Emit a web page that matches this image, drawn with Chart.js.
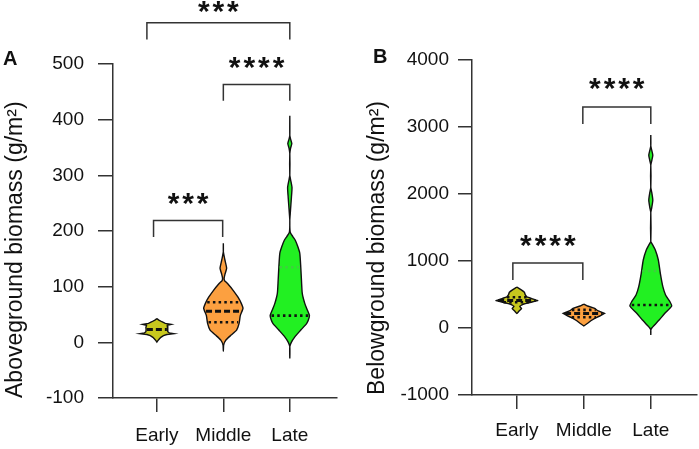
<!DOCTYPE html>
<html><head><meta charset="utf-8">
<script src="https://cdn.jsdelivr.net/npm/chart.js@4.4.1/dist/chart.umd.min.js"></script>
<style>
html,body{margin:0;padding:0;background:#fff;overflow:hidden}
#wrap{display:flex;width:699px;height:449px}
canvas{display:block}
</style></head><body>
<div id="wrap"><canvas id="cA" width="350" height="449"></canvas><canvas id="cB" width="349" height="449"></canvas></div>
<script>
// ---------- data ----------
const categories = ['Early', 'Middle', 'Late'];
const aboveTicks = [-100, 0, 100, 200, 300, 400, 500];
const belowTicks = [-1000, 0, 1000, 2000, 3000, 4000];

// violin outlines: [value, relative density (half-width)]
const aboveEarly = [[42.5,0],[40,0.1],[37,0.25],[34,0.42],[32.3,0.72],[30.5,0.52],[27,0.55],[23,0.54],[19,0.55],[17,0.62],[15.6,0.85],[14,0.5],[12,0.33],[9,0.2],[6,0.12],[3,0.05],[0.5,0]];
const aboveMiddle = [[178,0],[163,0],[155,0.04],[147,0.085],[133,0.165],[122,0.08],[115,0.04],[111,0.06],[106,0.2],[93,0.5],[81,0.735],[70,0.9],[61,0.985],[48,0.85],[34,0.79],[22,0.665],[13,0.39],[4,0.125],[-5,0.015],[-16,0]];
const aboveLate = [[407,0],[372,0],[365,0.04],[357,0.1],[349,0.04],[339,0],[300,0],[292,0.04],[278,0.11],[260,0.08],[235,0.03],[219,0],[198,0.02],[190,0.15],[183,0.28],[172,0.4],[160,0.5],[135,0.55],[111,0.585],[88,0.625],[70,0.75],[58,0.88],[48,0.985],[40,0.93],[34,0.85],[22,0.55],[9,0.235],[0,0.075],[-8,0],[-29,0]];

const belowEarly = [[612,0],[572,0.2],[533,0.375],[497,0.415],[463,0.5],[433,0.79],[408,1.04],[384,0.7],[354,0.31],[324,0.14],[289,0.235],[249,0.1],[214,0]];
const belowMiddle = [[358,0],[328,0.19],[294,0.54],[258,0.69],[219,1.025],[179,0.79],[145,0.54],[109,0.35],[70,0.19],[30,0]];
const belowLate = [[2880,0],[2720,0],[2650,0.05],[2580,0.1],[2500,0.05],[2430,0],[2100,0],[2020,0.05],[1910,0.1],[1800,0.05],[1720,0],[1290,0],[1264,0.05],[1165,0.225],[1015,0.375],[816,0.475],[617,0.6],[493,0.735],[393,0.95],[328,1.04],[219,0.7],[119,0.415],[45,0.185],[0,0.05],[-30,0],[-104,0]];

// summary lines: [category index, value, kind]
const aboveLines = [[0,23,'median'],[1,36,'quartile'],[1,56,'median'],[1,72,'quartile'],[2,48,'quartile'],[2,135,'hidden']];
const belowLines = [[0,460,'quartile'],[0,412,'median'],[0,385,'quartile'],[1,270,'quartile'],[1,215,'median'],[1,160,'quartile'],[2,343,'quartile'],[2,850,'hidden']];

// significance brackets: [from, to, leg end, bar level, label level, label]
const aboveBrackets = [[-0.15,2,544,574,599,'***'],[1,2,434,463,499,'****'],[-0.05,0.99,189,219,254,'***']];
const belowBrackets = [[0.985,2,3046,3300,3613,'****'],[-0.06,0.985,717,970,1269,'****']];

// ---------- drawing ----------
const FONT = "'Liberation Sans', Arial, sans-serif";
Chart.defaults.font.family = FONT;
Chart.defaults.color = '#111';
const fills = ['#c8c81e', '#fca040', '#22f022'];
const K = 0.3;

function outlinePoints(cat, outline) {
  const right = outline.map(([v, d]) => ({x: cat + d * K, y: v}));
  const left = outline.slice(0, -1).reverse().map(([v, d]) => ({x: cat - d * K, y: v}));
  return right.concat(left);
}
function widthAt(outline, v) {
  for (let i = 0; i < outline.length - 1; i++) {
    const [v1, d1] = outline[i], [v2, d2] = outline[i + 1];
    if (v <= v1 && v >= v2) { const t = (v1 - v) / (v1 - v2 || 1); return (d1 + t * (d2 - d1)) * K; }
  }
  return 0;
}
function buildDatasets(outlines, tensions, lines, brackets) {
  const ds = [];
  outlines.forEach((o, i) => ds.push({
    data: outlinePoints(i, o), showLine: true, fill: 'shape', backgroundColor: fills[i],
    borderColor: '#111', borderWidth: 1.4, pointRadius: 0, tension: tensions[i], order: 3, clip: false
  }));
  lines.forEach(([c, v, kind]) => {
    const w = widthAt(outlines[c], v) * 0.93;
    ds.push({
      data: [{x: c - w, y: v}, {x: c + w, y: v}], showLine: true, fill: false, pointRadius: 0,
      borderColor: kind === 'hidden' ? '#3fcf3f' : '#111',
      borderWidth: kind === 'median' ? 3 : 2.6,
      borderDash: kind === 'median' ? [6, 3] : [2.5, 3.2], order: 1
    });
  });
  brackets.forEach(([a, b, leg, top]) => ds.push({
    data: [{x: a, y: leg}, {x: a, y: top}, {x: b, y: top}, {x: b, y: leg}], showLine: true, fill: false,
    pointRadius: 0, borderColor: '#333', borderWidth: 1.5, tension: 0, clip: false, order: 2
  }));
  return ds;
}

const annot = {
  id: 'annot',
  afterDatasetsDraw(chart, args, opts) {
    const {ctx} = chart;
    const x = chart.scales.x, y = chart.scales.y;
    ctx.save();
    ctx.fillStyle = '#111';
    ctx.textAlign = 'center';
    ctx.textBaseline = 'alphabetic';
    ctx.font = 'bold 30px ' + FONT;
    opts.brackets.forEach(b => {
      const cx = x.getPixelForValue((b[0] + b[1]) / 2);
      const cy = y.getPixelForValue(b[4]);
      const n = b[5].length;
      for (let i = 0; i < n; i++) ctx.fillText(b[5][i], cx + (i - (n - 1) / 2) * 14.6, cy + 12);
    });
    ctx.textAlign = 'left';
    ctx.font = 'bold 20px ' + FONT;
    ctx.fillText(opts.letter, opts.lx, opts.ly);
    ctx.restore();
  }
};

function makeChart(id, p) {
  const axisLine = {color: '#333', width: 1.5};
  return new Chart(document.getElementById(id), {
    type: 'scatter',
    data: {datasets: buildDatasets(p.outlines, p.tensions, p.lines, p.brackets)},
    options: {
      responsive: false, animation: false, events: [],
      layout: {padding: {top: p.top, right: p.right, left: 0, bottom: 0}},
      plugins: {legend: {display: false}, tooltip: {enabled: false},
        annot: {brackets: p.brackets, letter: p.letter, lx: p.lx, ly: p.ly}},
      scales: {
        x: {
          type: 'linear', min: p.xmin, max: p.xmax,
          afterBuildTicks: s => { s.ticks = categories.map((c, i) => ({value: i})); },
          afterFit: s => { s.height = 449 - p.bottom; },
          ticks: {callback: v => categories[v], font: {size: 19}, color: '#111', padding: p.xpad, maxRotation: 0, autoSkip: false},
          grid: {drawOnChartArea: false, tickLength: 14, color: '#333', lineWidth: 1.5},
          border: axisLine
        },
        y: {
          min: p.ymin, max: p.ymax,
          afterBuildTicks: s => { s.ticks = p.ticks.map(v => ({value: v})); },
          afterFit: s => { s.width = p.left; },
          ticks: {callback: v => String(v), font: {size: 19}, color: '#111', padding: p.ypad},
          grid: {drawOnChartArea: false, tickLength: p.ytl, color: '#333', lineWidth: 1.5},
          border: axisLine,
          title: {display: true, text: p.title, font: {size: 23}, color: '#111', align: 'start', padding: {top: p.tpad, bottom: 0}}
        }
      }
    },
    plugins: [annot]
  });
}

makeChart('cA', {
  outlines: [aboveEarly, aboveMiddle, aboveLate], tensions: [0, 0.15, 0.2], lines: aboveLines, brackets: aboveBrackets,
  ticks: aboveTicks, ymin: -100, ymax: 500, xmin: -0.66, xmax: 2.71,
  top: 64, right: 13, left: 113, bottom: 398, xpad: 12, ypad: 14, ytl: 15, tpad: 2,
  title: 'Aboveground biomass (g/m²)', letter: 'A', lx: 3, ly: 65
});
makeChart('cB', {
  outlines: [belowEarly, belowMiddle, belowLate], tensions: [0.05, 0, 0.2], lines: belowLines, brackets: belowBrackets,
  ticks: belowTicks, ymin: -1000, ymax: 4000, xmin: -0.67, xmax: 2.69,
  top: 60, right: 2, left: 122, bottom: 395, xpad: 10, ypad: 9, ytl: 14, tpad: 14,
  title: 'Belowground biomass (g/m²)', letter: 'B', lx: 23, ly: 63
});
</script>
</body></html>
